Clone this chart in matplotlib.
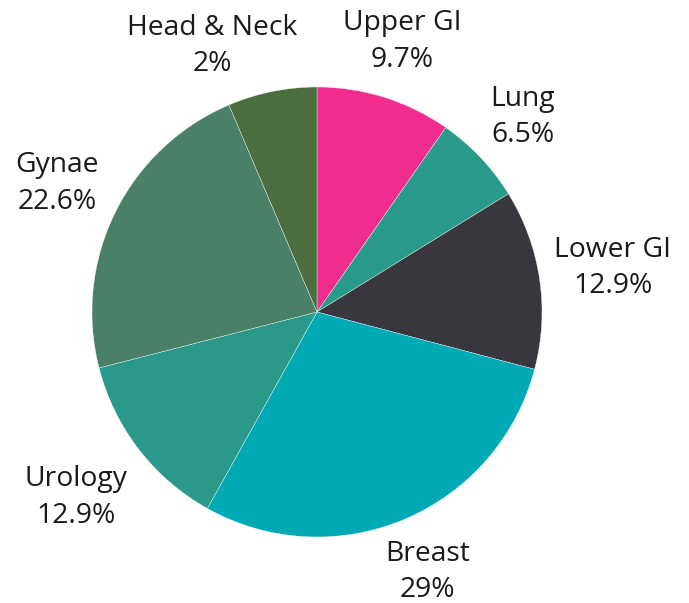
import numpy as np
import matplotlib.pyplot as plt

plt.rcParams['font.family'] = ['Open Sans', 'DejaVu Sans']

# Data (slice sizes as drawn, printed labels as shown)
categories = ['Upper GI', 'Lung', 'Lower GI', 'Breast', 'Urology', 'Gynae', 'Head & Neck']
shares = [9.7, 6.5, 12.9, 29.0, 12.9, 22.6, 6.4]
pct_labels = ['9.7%', '6.5%', '12.9%', '29%', '12.9%', '22.6%', '2%']
colors = ['#F02C8F', '#2A9A8B', '#38373D', '#00AAB5', '#2A998A', '#4A8068', '#4A6E40']

# label placement (distance from centre in radii, angular shift in degrees)
label_dist = [1.26, 1.26, 1.33, 1.255, 1.35, 1.29, 1.27]
label_shift = [0, 0, 0, 0, 0, 0, -10]

W, H = 689, 603
fig = plt.figure(figsize=(W / 100, H / 100), dpi=100)
cx, cy, R = 317, 312, 225
ax = fig.add_axes([(cx - R) / W, (H - cy - R) / H, 2 * R / W, 2 * R / H])

wedges, _ = ax.pie(shares, colors=colors, startangle=90, counterclock=False,
                   radius=1, wedgeprops=dict(edgecolor='white', linewidth=0.25))
ax.set_xlim(-1, 1)
ax.set_ylim(-1, 1)
ax.set_aspect('equal')
ax.axis('off')

for w, name, pct, d, sh in zip(wedges, categories, pct_labels, label_dist, label_shift):
    mid = np.deg2rad((w.theta1 + w.theta2) / 2 - sh)
    x, y = d * np.cos(mid), d * np.sin(mid)
    ax.text(x, y, name + '\n' + pct, ha='center', va='center', fontsize=20.3,
            color='#1a1a1a', linespacing=1.4, clip_on=False)

fig.savefig('out.png', dpi=100)
